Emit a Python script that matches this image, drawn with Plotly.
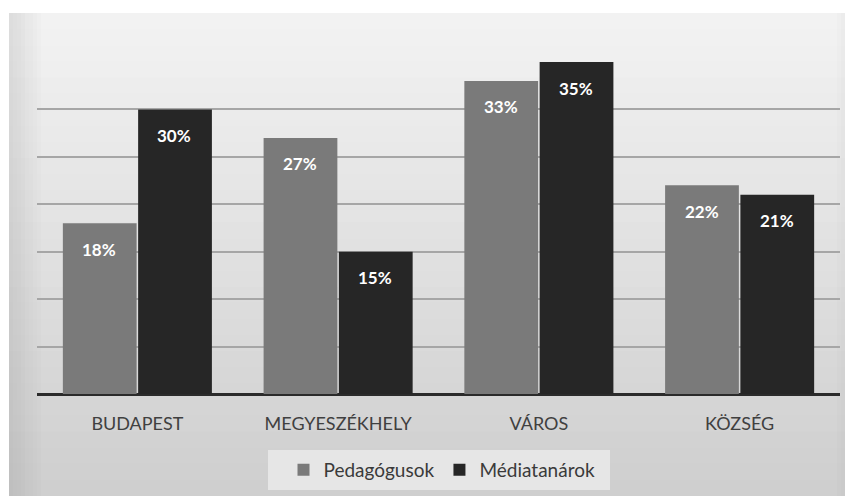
import plotly.graph_objects as go

categories = ["BUDAPEST", "MEGYESZÉKHELY", "VÁROS", "KÖZSÉG"]
pedagogusok = [18, 27, 33, 22]
mediatanarok = [30, 15, 35, 21]
series_names = ["Pedagógusok", "Médiatanárok"]

OFF = 8  # browser body margin
W, H = 853 - OFF, 496 - OFF
L, R, T, B = 37 - OFF, 13, 62 - OFF, 102
PW, PH = W - L - R, H - T - B

def px_x(p):
    # p is in window pixels
    return (p - OFF - L) / PW

def px_y(p):
    return (H - B - (p - OFF)) / PH

fig = go.Figure()
fig.add_trace(go.Bar(name=series_names[0], x=categories, y=pedagogusok,
                     marker=dict(color="#7a7a7a", line=dict(width=0))))
fig.add_trace(go.Bar(name=series_names[1], x=categories, y=mediatanarok,
                     marker=dict(color="#262626", line=dict(width=0))))

# gradient background panel (bands)
shapes = []
top, bottom = 13, 496
n = 30
c0, c1 = 0xF3, 0xCE
for i in range(n):
    y0 = top + (bottom - top) * i / n
    y1 = top + (bottom - top) * (i + 1) / n + 2
    c = round(c0 + (c1 - c0) * (i + 0.5) / n)
    col = f"rgb({c},{c},{c})"
    shapes.append(dict(type="rect", xref="paper", yref="paper",
                       x0=px_x(9), x1=px_x(860), y0=px_y(min(y1, 500)), y1=px_y(y0),
                       fillcolor=col, line=dict(width=0), layer="below"))
# left darker edge
for i in range(8):
    x0 = 9 + i * 4
    shapes.append(dict(type="rect", xref="paper", yref="paper",
                       x0=px_x(x0), x1=px_x(x0 + 4), y0=px_y(500), y1=px_y(top),
                       fillcolor="rgba(110,110,110,%.3f)" % (0.16 * (8 - i) / 8),
                       line=dict(width=0), layer="below"))
# right darker edge
for i in range(4):
    x0 = 853 - 16 + i * 4
    shapes.append(dict(type="rect", xref="paper", yref="paper",
                       x0=px_x(x0), x1=px_x(x0 + 4), y0=px_y(500), y1=px_y(top),
                       fillcolor="rgba(110,110,110,%.3f)" % (0.08 * (i + 1) / 4),
                       line=dict(width=0), layer="below"))
# legend box
shapes.append(dict(type="rect", xref="paper", yref="paper",
                   x0=px_x(268), x1=px_x(610), y0=px_y(490), y1=px_y(450),
                   fillcolor="#e6e6e6", line=dict(width=0), layer="below"))

annotations = []
for cat, v in zip(categories, pedagogusok):
    annotations.append(dict(x=cat, y=v, xref="x", yref="y", text=f"{v}%",
                            showarrow=False, xshift=-38, yshift=-26,
                            font=dict(family="Lato", size=17, color="white", weight="bold")))
for cat, v in zip(categories, mediatanarok):
    annotations.append(dict(x=cat, y=v, xref="x", yref="y", text=f"{v}%",
                            showarrow=False, xshift=37, yshift=-26,
                            font=dict(family="Lato", size=17, color="white", weight="bold")))

fig.update_layout(
    width=W, height=H,
    margin=dict(l=L, r=R, t=T, b=B, pad=0, autoexpand=False),
    paper_bgcolor="white",
    plot_bgcolor="rgba(0,0,0,0)",
    barmode="group", bargap=0.25, bargroupgap=0.02,
    font=dict(family="Lato", color="#404040"),
    shapes=shapes,
    annotations=annotations,
    showlegend=True,
    legend=dict(orientation="h", x=px_x(442), y=px_y(470), xanchor="center", yanchor="middle",
                bgcolor="rgba(0,0,0,0)", font=dict(size=19, color="#3a3a3a"),
                itemwidth=30, traceorder="normal"),
    xaxis=dict(showgrid=False, zeroline=False, showline=False,
               ticks="", ticklabelstandoff=17,
               tickfont=dict(size=18, color="#404040")),
    yaxis=dict(range=[0, 35], dtick=5, showgrid=True, gridcolor="#a6a6a6", gridwidth=2,
               zeroline=True, zerolinecolor="#2b2b2b", zerolinewidth=3,
               showticklabels=False, ticks=""),
)

fig.write_html("out.html")
